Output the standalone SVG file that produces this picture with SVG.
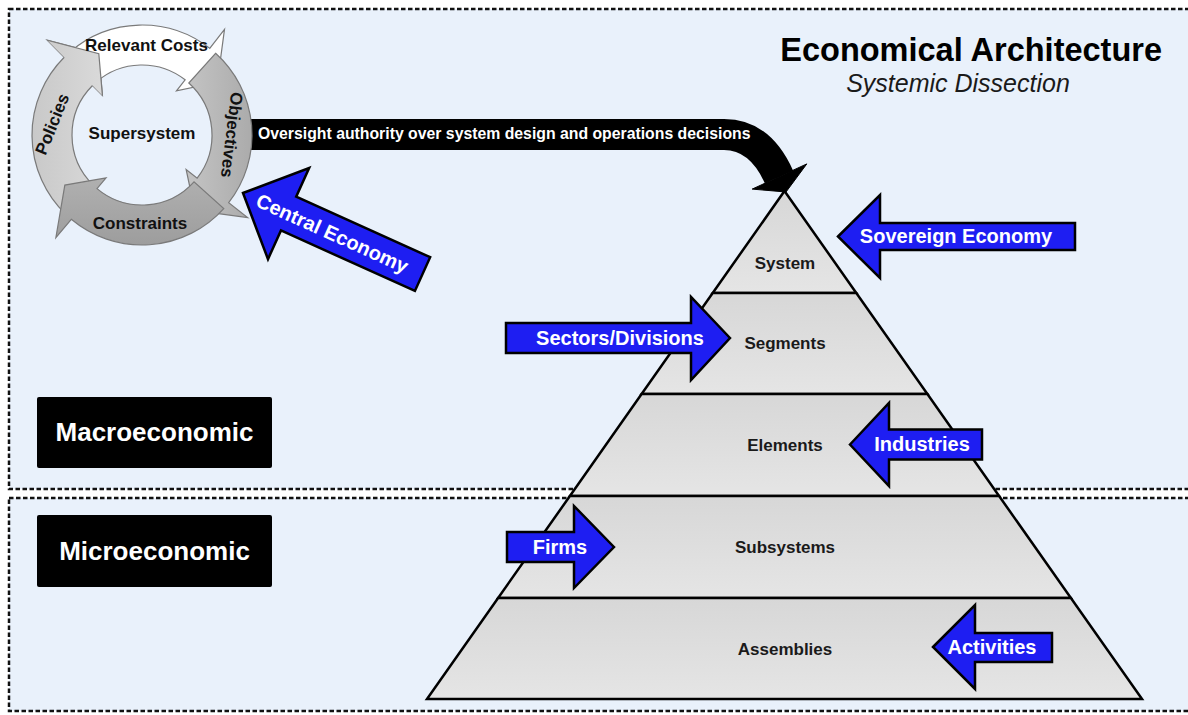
<svg xmlns="http://www.w3.org/2000/svg" width="1188" height="715" viewBox="0 0 1188 715">
<style>
.frame{fill:#e9f1fb;stroke:#111;stroke-width:2.5;stroke-dasharray:4.5 2.5}
.layer{fill:url(#gLayer);stroke:#000;stroke-width:2.5;stroke-linejoin:miter}
.ltxt{font-family:"Liberation Sans",Arial,sans-serif;font-weight:bold;font-size:17px;fill:#1a1a1a;text-anchor:middle}
.blue{fill:#1e1ef2;stroke:#000;stroke-width:2.5;stroke-linejoin:miter}
.btxt{font-family:"Liberation Sans",Arial,sans-serif;font-weight:bold;font-size:20px;fill:#fff;text-anchor:middle}
.ring{stroke:#7a7a7a;stroke-width:1.2;stroke-linejoin:miter}
.ctxt{font-family:"Liberation Sans",Arial,sans-serif;font-weight:bold;font-size:17px;fill:#111;text-anchor:middle}
.box{fill:#000}
.boxtxt{font-family:"Liberation Sans",Arial,sans-serif;font-weight:bold;font-size:26px;fill:#fff;text-anchor:middle}
</style>
<defs>
<linearGradient id="gLayer" x1="0" y1="0" x2="0" y2="1">
<stop offset="0" stop-color="#d7d7d7"/>
<stop offset="1" stop-color="#e5e5e5"/>
</linearGradient>
<linearGradient id="gPol" gradientUnits="userSpaceOnUse" x1="30" y1="0" x2="105" y2="0">
<stop offset="0" stop-color="#c8c8c8"/>
<stop offset="1" stop-color="#dadada"/>
</linearGradient>
<linearGradient id="gObj" x1="0" y1="0" x2="1" y2="0">
<stop offset="0" stop-color="#c4c4c4"/>
<stop offset="1" stop-color="#ababab"/>
</linearGradient>
<linearGradient id="gCons" x1="0" y1="0" x2="0" y2="1">
<stop offset="0" stop-color="#b0b0b0"/>
<stop offset="1" stop-color="#9d9d9d"/>
</linearGradient>
</defs>

<rect x="0" y="0" width="1188" height="715" fill="#ffffff"/>
<rect class="frame" x="9" y="9" width="1190" height="480"/>
<rect class="frame" x="9" y="498" width="1190" height="213"/>

<g id="title">
<text x="1162" y="61" font-family="'Liberation Sans',Arial,sans-serif" font-weight="bold" font-size="32.5" fill="#000" text-anchor="end">Economical Architecture</text>
<text x="958" y="92" font-family="'Liberation Sans',Arial,sans-serif" font-style="italic" font-size="25" fill="#1a1a1a" text-anchor="middle">Systemic Dissection</text>
</g>

<g id="macro">
<rect class="box" x="37" y="397" width="235" height="71" rx="2"/>
<text class="boxtxt" x="154.5" y="441">Macroeconomic</text>
</g>
<g id="micro">
<rect class="box" x="37" y="515" width="235" height="72" rx="2"/>
<text class="boxtxt" x="154.5" y="560">Microeconomic</text>
</g>

<g id="system">
<polygon class="layer" points="784.5,191 856.3,293 712.7,293"/>
<text class="ltxt" x="785" y="269">System</text>
</g>
<g id="segments">
<polygon class="layer" points="712.7,293 856.3,293 927.4,394 641.6,394"/>
<text class="ltxt" x="785" y="349">Segments</text>
</g>
<g id="elements">
<polygon class="layer" points="641.6,394 927.4,394 999.1,496 569.9,496"/>
<text class="ltxt" x="785" y="451">Elements</text>
</g>
<g id="subsystems">
<polygon class="layer" points="569.9,496 999.1,496 1070.9,598 498.1,598"/>
<text class="ltxt" x="785" y="553">Subsystems</text>
</g>
<g id="assemblies">
<polygon class="layer" points="498.1,598 1070.9,598 1142,699 427,699"/>
<text class="ltxt" x="785" y="655">Assemblies</text>
</g>

<g id="connectors">
<path d="M235,134.5 H724 Q760,134.5 779,177" fill="none" stroke="#000" stroke-width="31"/>
<polygon points="806.8,163.9 786,192 752.2,189.1" fill="#000" stroke="#000" stroke-width="1" stroke-linejoin="miter"/>
<text x="258" y="139" font-family="'Liberation Sans',Arial,sans-serif" font-weight="bold" font-size="15.8" fill="#fff">Oversight authority over system design and operations decisions</text>
</g>

<g id="supersystem">
<path id="policies" class="ring" fill="url(#gPol)" d="M65.58,214.12 A110,110 0 0 1 64.22,57.22 L47.25,40.25 L98.81,53.77 L102.4,95.4 L92.5,85.5 A70,70 0 0 0 93.37,185.35 Z"/>
<path id="relevant-costs" class="ring" fill="#ffffff" d="M69.83,51.98 A110,110 0 0 1 209.73,48.32 L224.5,29.41 L217.37,82.23 L176.48,90.87 L185.1,79.84 A70,70 0 0 0 96.07,82.17 Z"/>
<path id="objectives" class="ring" fill="url(#gObj)" d="M215.6,53.26 A110,110 0 0 1 228.68,202.73 L247.59,217.5 L194.77,210.37 L186.13,169.48 L197.16,178.1 A70,70 0 0 0 188.84,82.98 Z"/>
<path id="constraints" class="ring" fill="url(#gCons)" d="M223.74,208.6 A110,110 0 0 1 71.29,219.26 L55.86,237.64 L64.84,185.1 L106,177.9 L97,188.62 A70,70 0 0 0 194.02,181.84 Z"/>
<polygon points="47.25,40.25 98.81,53.77 102.4,95.4 92.5,85.5 64.22,57.22" fill="url(#gPol)" stroke="none"/>
<polyline points="47.25,40.25 98.81,53.77 102.4,95.4" fill="none" stroke="#7a7a7a" stroke-width="1.2"/>
<text class="ctxt" x="146.5" y="51">Relevant Costs</text>
<text class="ctxt" x="142" y="139">Supersystem</text>
<text class="ctxt" x="140" y="229">Constraints</text>
<text class="ctxt" transform="translate(232,135) rotate(97)" x="0" y="6">Objectives</text>
<text class="ctxt" transform="translate(52,124) rotate(-68)" x="0" y="6">Policies</text>
</g>

<g id="central-economy">
<g transform="translate(243,193) rotate(24.3)">
<path class="blue" d="M0,0 L50,-50 L50,-18.5 L197,-18.5 L197,18.5 L50,18.5 L50,50 Z"/>
<text class="btxt" x="98" y="7">Central Economy</text>
</g>
</g>
<g id="sovereign-economy">
<path class="blue" d="M838,236.5 L880,195 L880,223 L1075,223 L1075,250 L880,250 L880,278 Z"/>
<text class="btxt" x="956" y="243">Sovereign Economy</text>
</g>
<g id="sectors-divisions">
<path class="blue" d="M730,338 L691,297 L691,323 L506,323 L506,353 L691,353 L691,380 Z"/>
<text class="btxt" x="620" y="345">Sectors/Divisions</text>
</g>
<g id="industries">
<path class="blue" d="M850,444.5 L889,403 L889,429.5 L982,429.5 L982,459.5 L889,459.5 L889,486 Z"/>
<text class="btxt" x="922" y="451">Industries</text>
</g>
<g id="firms">
<path class="blue" d="M614,547 L574,506 L574,532 L507,532 L507,562 L574,562 L574,588 Z"/>
<text class="btxt" x="560" y="554">Firms</text>
</g>
<g id="activities">
<path class="blue" d="M933,647 L975,605 L975,633 L1052,633 L1052,662 L975,662 L975,689 Z"/>
<text class="btxt" x="992" y="654">Activities</text>
</g>
</svg>
